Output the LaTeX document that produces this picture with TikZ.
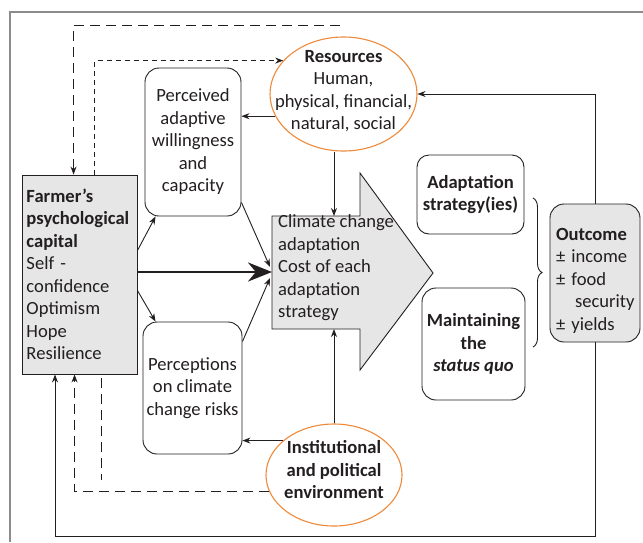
\documentclass[tikz,border=0pt]{standalone}
\usepackage{fontspec}
\setmainfont{Carlito}
\usetikzlibrary{arrows.meta,calc,shapes.geometric,decorations.pathreplacing}
\definecolor{txt}{HTML}{231F20}
\definecolor{boxgray}{HTML}{E6E6E6}
\definecolor{ovalorange}{HTML}{EF8A3B}
\definecolor{framegray}{HTML}{8C8C8C}
\begin{document}
\begin{tikzpicture}[x=1pt,y=-1pt,font=\fontsize{18.6}{22.5}\selectfont,text=txt,
	every node/.style={inner sep=0pt},
	rbox/.style={draw=txt,line width=0.9pt,rounded corners=14pt,align=center},
	gbox/.style={draw=txt,line width=0.9pt,fill=boxgray},
	oval/.style={ellipse,draw=ovalorange,line width=1.1pt,fill=white},
	conn/.style={draw=txt,line width=0.9pt,-{Stealth[length=8pt,width=6pt]}},
	dlong/.style={conn,dash pattern=on 10pt off 6pt},
	dshort/.style={conn,dash pattern=on 5pt off 4pt}]
		\useasboundingbox (0,0) rectangle (643,542);
		\draw [framegray,line width=1.2pt] (10,542) -- (10,12) -- (643,12);
		\fill [white] (11,13) rectangle (643,542);
		\node [gbox,minimum width=115pt,minimum height=199pt,text width=106pt,align=left] (farmer) at (79.5,274.5) {\textbf{Farmer’s}\\\textbf{psychological}\\\textbf{capital}\\Self -\\confidence\\Optimism\\Hope\\Resilience};
		\node [rbox,minimum width=96pt,minimum height=148pt] (will) at (193,142) {Perceived\\adaptive\\willingness\\and\\capacity};
		\node [rbox,minimum width=99pt,minimum height=132pt] (perc) at (192.5,388) {Perceptions\\on climate\\change risks};
		\node [oval,minimum width=147pt,minimum height=114pt] (res) at (343.5,94) {};
		\node [align=center] (restext) at (343.5,91) {\textbf{Resources}\\Human,\\physical, financial,\\natural, social};
		\node [oval,minimum width=136pt,minimum height=102pt] (inst) at (334,475) {};
		\node [align=center,font=\fontsize{18.6}{22.5}\selectfont\bfseries] (insttext) at (334,470) {Institutional\\and political\\environment};
		\draw [gbox] (272,216) -- (360,216) -- (360,173) -- (433,273) -- (360,370) -- (360,329) -- (272,329) -- cycle;
		\node [anchor=west,align=left] (cca) at (278,268) {Climate change\\adaptation\\Cost of each\\adaptation\\strategy};
		\coordinate (bodyW) at (272,272);
		\coordinate (bodyN) at (334,216);
		\coordinate (bodyS) at (334,329);
		\node [rbox,rounded corners=12pt,minimum width=107pt,minimum height=79pt,font=\fontsize{18.6}{22.5}\selectfont\bfseries] (adapt) at (470.5,194.5) {Adaptation\\strategy(ies)};
		\node [rbox,minimum width=103pt,minimum height=112pt,font=\fontsize{18.6}{22.5}\selectfont\bfseries] (maint) at (473.5,344) {Maintaining\\the\\\textit{status quo}};
		\node [gbox,rounded corners=14pt,minimum width=90pt,minimum height=138pt,text width=78pt,align=left] (outc) at (595,273) {\rule{0pt}{27pt}\textbf{Outcome}\\± income\\± food\\\hspace*{19pt}\mbox{security}\\± yields};
		\draw [txt,line width=0.9pt,decorate,decoration={brace,amplitude=9pt}] (533,198) -- (533,347);
		\draw [conn] (res.198) -- (will.east |- res.198);
		\draw [conn] (bodyN |- res.south) -- (bodyN);
		\draw [conn] (inst.north) -- (bodyS);
		\draw [conn] (inst.146) -- (perc.east |- inst.146);
		\draw [conn] ($(farmer.east)+(0,-24)$) -- ($(will.south west)+(11,0)$);
		\draw [conn] ($(farmer.east)+(0,16)$) -- ($(perc.north west)+(13,0)$);
		\draw [conn] ($(will.south east)+(0,-14)$) -- ($(bodyW)+(-2,-5)$);
		\draw [conn] ($(perc.north east)+(0,20)$) -- ($(bodyW)+(-2,6)$);
		\draw [draw=txt,line width=2.6pt,-{Stealth[length=24pt,width=19pt]}] (farmer.east |- bodyW) -- (bodyW);
		\coordinate (back) at (55,536);
		\draw [conn] (outc.north) |- (res.east);
		\draw [conn] (outc.south) |- (back) -- (back |- farmer.south);
		\coordinate (dtop) at (340,25);
		\draw [dlong] (dtop) -| ($(farmer.north west)+(52,0)$);
		\draw [dshort] ($(farmer.north west)+(73,0)$) |- (res.151);
		\draw [dlong] (inst.194) -| ($(farmer.south west)+(53,0)$);
		\draw [dlong,-] ($(farmer.south west)+(80,4)$) -- ++(0,102);
	\end{tikzpicture}
\end{document}
